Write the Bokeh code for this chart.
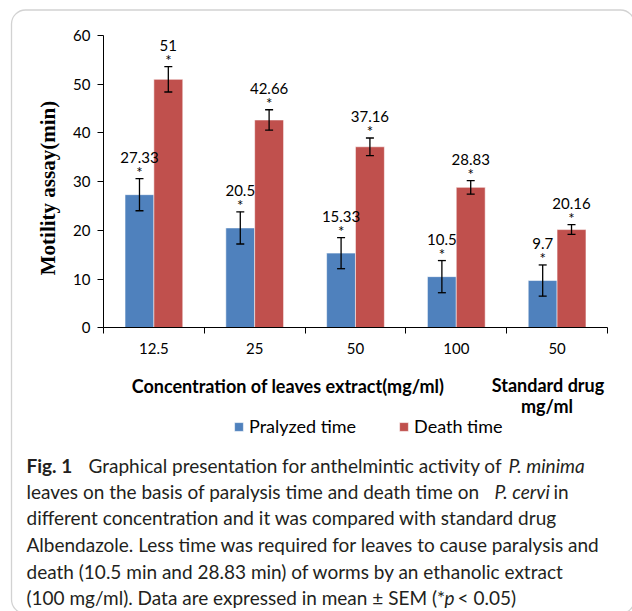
import numpy as np
from bokeh.plotting import figure
from bokeh.models import (ColumnDataSource, Range1d, FixedTicker, Whisker, TeeHead,
                          LabelSet, Label, Legend, LegendItem, BoxAnnotation)
from bokeh.core.properties import value
from bokeh.embed import file_html
from bokeh.resources import INLINE

# ---------------- data ----------------
categories = ["12.5", "25", "50", "100", "50"]
paralyzed = [27.33, 20.5, 15.33, 10.5, 9.7]
paralyzed_sem = [3.3, 3.3, 3.2, 3.3, 3.2]
death = [51, 42.66, 37.16, 28.83, 20.16]
death_sem = [2.6, 2.1, 1.8, 1.4, 1.0]
y_ticks = [0, 10, 20, 30, 40, 50, 60]
series_names = ["Pralyzed time", "Death time"]
colors = ["#4F81BD", "#C0504D"]

FONT = "Lato"
W, H = 632, 611

# ---------------- layout helpers (canvas px -> data) ----------------
X0_PX, X_PER = 103.0, 100.8          # x=0.5 at px 103, one category = 100.8 px
Y0_PX, Y_PER = 327.3, 292.3 / 60.0   # y=0 at px 327.3, 60 units = 292.3 px

def xd(px):
    return 0.5 + (px - X0_PX) / X_PER

def yd(py):
    return (Y0_PX - py) / Y_PER

p = figure(width=W, height=H, x_range=Range1d(xd(0), xd(W)), y_range=Range1d(yd(H), yd(0)),
           output_backend="svg", toolbar_location=None, title=None,
           min_border=0, min_border_left=0, min_border_right=0,
           min_border_top=0, min_border_bottom=0)
p.outline_line_color = None
p.grid.visible = False
p.background_fill_color = "white"
p.border_fill_color = "white"

pos = np.arange(1, len(categories) + 1)
offset = 0.143
bw = 0.287

renderers = []
for vals, sems, col, shift in [(paralyzed, paralyzed_sem, colors[0], -offset),
                               (death, death_sem, colors[1], offset)]:
    v = np.array(vals, dtype=float)
    s = np.array(sems, dtype=float)
    src = ColumnDataSource(dict(x=pos + shift, top=v, upper=v + s, lower=v - s,
                                label=[f"{x:g}" for x in vals], star=["*"] * len(vals)))
    r = p.vbar(x="x", top="top", width=bw, source=src, fill_color=col,
               line_color="white", line_alpha=0.55, line_width=1)
    renderers.append(r)
    p.add_layout(Whisker(source=src, base="x", upper="upper", lower="lower", level="annotation",
                         line_color="black", line_width=1.3,
                         upper_head=TeeHead(size=8, line_color="black", line_width=1.3),
                         lower_head=TeeHead(size=8, line_color="black", line_width=1.3)))
    p.add_layout(LabelSet(x="x", y="upper", text="label", source=src, text_align="center",
                          text_baseline="alphabetic", y_offset=16, text_font=value(FONT),
                          text_font_size="15px", text_color="black"))
    p.add_layout(LabelSet(x="x", y="upper", text="star", source=src, text_align="center",
                          text_baseline="alphabetic", y_offset=1, text_font=value(FONT),
                          text_font_size="15px", text_color="black"))

# y axis
yax = p.yaxis[0]
yax.fixed_location = 0.5
yax.bounds = (y_ticks[0], y_ticks[-1])
yax.ticker = FixedTicker(ticks=y_ticks)
yax.minor_tick_line_color = None
yax.major_tick_in = 0
yax.major_tick_out = 6
yax.major_label_standoff = 7
yax.major_label_text_font = FONT
yax.major_label_text_font_size = "15px"
yax.major_label_text_color = "black"
yax.axis_line_color = "black"
yax.major_tick_line_color = "black"

p.add_layout(Label(x=xd(47), y=yd(187.5), text="Motility assay(min)", angle=np.pi / 2,
                   text_align="center", text_baseline="middle", text_font="Liberation Serif",
                   text_font_style="bold", text_font_size="21px", text_color="black"))

# x axis
xax = p.xaxis[0]
xax.fixed_location = 0
xax.bounds = (0.5, len(categories) + 0.5)
xax.ticker = FixedTicker(ticks=list(pos), minor_ticks=list(np.arange(0.5, len(categories) + 1, 1.0)))
xax.major_label_overrides = {int(i): c for i, c in zip(pos, categories)}
xax.major_tick_in = 0
xax.major_tick_out = 0
xax.minor_tick_in = 0
xax.minor_tick_out = 6
xax.minor_tick_line_color = "black"
xax.major_label_standoff = 9
xax.major_label_text_font = FONT
xax.major_label_text_font_size = "15px"
xax.major_label_text_color = "black"
xax.axis_line_color = "black"

# x-axis titles
for txt, px, py in [("Concentration of leaves extract(mg/ml)", 287.5, 385),
                    ("Standard drug", 547.5, 384),
                    ("mg/ml", 546.5, 405)]:
    p.add_layout(Label(x=xd(px), y=yd(py), text=txt, text_align="center",
                       text_baseline="alphabetic", text_font=FONT, text_font_size="18px",
                       text_font_style="bold", text_color="black"))

# legend
legend = Legend(items=[LegendItem(label=series_names[0], renderers=[renderers[0]]),
                       LegendItem(label=series_names[1], renderers=[renderers[1]])],
                location=(233, H - 437), orientation="horizontal", glyph_width=11, glyph_height=11,
                label_standoff=5, spacing=42, padding=0, margin=0, border_line_color=None,
                background_fill_alpha=0, label_text_font=FONT, label_text_font_size="18px",
                label_text_color="black")
p.add_layout(legend)

# caption
caption = [
    ("Fig. 1", 26, 465, "bold"),
    ("Graphical presentation for anthelmintic activity of", 88, 465, "normal"),
    ("P. minima", 508, 465, "italic"),
    ("leaves on the basis of paralysis time and death time on", 26, 491, "normal"),
    ("P. cervi", 494, 491, "italic"),
    ("in", 553, 491, "normal"),
    ("different concentration and it was compared with standard drug", 26, 517, "normal"),
    ("Albendazole. Less time was required for leaves to cause paralysis and", 26, 544, "normal"),
    ("death (10.5 min and 28.83 min) of worms by an ethanolic extract", 26, 571, "normal"),
    ("(100 mg/ml). Data are expressed in mean \u00b1 SEM (*", 26, 597, "normal"),
    ("p", 444, 597, "italic"),
    ("< 0.05)", 457, 597, "normal"),
]
for txt, px, py, style in caption:
    p.add_layout(Label(x=xd(px), y=yd(py), text=txt, text_align="left",
                       text_baseline="alphabetic", text_font=FONT, text_font_size="19px",
                       text_font_style=style, text_color="#231f20"))

# rounded frame
p.add_layout(BoxAnnotation(left=xd(11), right=xd(634), top=yd(9.5), bottom=yd(613),
                           fill_alpha=0, line_color="#6a6a6a", line_width=1.3,
                           border_radius=14))

open("out.html", "w").write(file_html(p, INLINE))
